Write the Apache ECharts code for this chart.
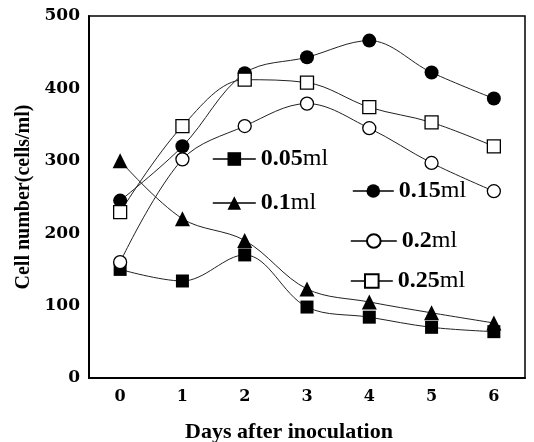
<!DOCTYPE html>
<html>
<head>
<meta charset="utf-8">
<script src="https://cdn.jsdelivr.net/npm/echarts@6/dist/echarts.min.js"></script>
<style>
  html, body { margin: 0; padding: 0; background: #fff; }
  #chart-container { width: 534px; height: 442px; }
</style>
</head>
<body>
<div id="chart-container"></div>
<script>
var dom = document.getElementById("chart-container");
var myChart = echarts.init(dom, null, { renderer: "canvas" });

const days = ["0", "1", "2", "3", "4", "5", "6"];
const yTicks = [0, 100, 200, 300, 400, 500];

const dose005 = [150, 134, 170, 98, 84, 70, 64];
const dose01 = [300, 220, 190, 123, 105, 90, 76];
const dose015 = [245, 320, 421, 443, 466, 422, 386];
const dose02 = [160, 302, 348, 379, 345, 297, 258];
const dose025 = [229, 348, 412, 408, 374, 353, 320];

const serif = "Liberation Serif";
const wideSerif = "DejaVu Serif";

function makeSeries(name, data, symbol, filled, size) {
  return {
    name: name,
    type: "line",
    data: data,
    smooth: 0.35,
    symbol: symbol,
    symbolSize: size,
    showAllSymbol: true,
    lineStyle: { color: "#222", width: 1 },
    itemStyle: {
      color: filled ? "#000" : "#fff",
      borderColor: "#000",
      borderWidth: filled ? 0 : 1.3,
    },
    emphasis: { disabled: true },
  };
}

function makeLegend(name, left, top, width) {
  return {
    data: [name],
    left: left,
    top: top,
    itemWidth: width,
    itemHeight: 17,
    itemGap: 0,
    padding: 0,
    selectedMode: false,
    lineStyle: { width: 1.6, color: "#000" },
    formatter: function (n) {
      return "{n|" + n.replace("ml", "") + "}{u|ml}";
    },
    textStyle: {
      rich: {
        n: { fontFamily: serif, fontWeight: "bold", fontSize: 24, color: "#000" },
        u: { fontFamily: serif, fontSize: 24, color: "#000" },
      },
    },
  };
}

var option = {
  backgroundColor: "#fff",
  animation: false,
  grid: {
    left: 89,
    right: 9,
    top: 16,
    bottom: 64,
    outerBoundsMode: "none",
    containLabel: false,
    show: true,
    borderColor: "#000",
    borderWidth: 1.5,
  },
  legend: [
    makeLegend("0.05ml", 212, 147, 43),
    makeLegend("0.1ml", 212, 191, 43),
    makeLegend("0.15ml", 352, 179, 41),
    makeLegend("0.2ml", 350, 229, 46),
    makeLegend("0.25ml", 350, 269, 42),
  ],
  xAxis: {
    type: "category",
    data: days,
    boundaryGap: true,
    name: "Days after inoculation",
    nameLocation: "middle",
    nameGap: 43,
    nameTextStyle: {
      fontFamily: serif,
      fontWeight: "bold",
      fontSize: 22,
      color: "#000",
      padding: [0, 36, 0, 0],
    },
    axisLine: { lineStyle: { color: "#000", width: 2 } },
    axisTick: { show: false },
    axisLabel: { fontFamily: wideSerif, fontWeight: "bold", fontSize: 16, color: "#000", margin: 11 },
  },
  yAxis: {
    type: "value",
    min: yTicks[0],
    max: yTicks[yTicks.length - 1],
    interval: 100,
    name: "Cell number(cells/ml)",
    nameLocation: "middle",
    nameGap: 54,
    nameTextStyle: { fontFamily: serif, fontWeight: "bold", fontSize: 20, color: "#000" },
    axisLine: { show: true, lineStyle: { color: "#000", width: 2 } },
    axisTick: { show: false },
    splitLine: { show: false },
    axisLabel: { fontFamily: wideSerif, fontWeight: "bold", fontSize: 17, color: "#000", margin: 9 },
  },
  series: [
    makeSeries("0.05ml", dose005, "rect", true, 13),
    makeSeries("0.1ml", dose01, "triangle", true, 15),
    makeSeries("0.15ml", dose015, "circle", true, 14),
    makeSeries("0.2ml", dose02, "circle", false, 13),
    makeSeries("0.25ml", dose025, "rect", false, 13),
  ],
};

myChart.setOption(option);
window.addEventListener("resize", myChart.resize);
</script>
</body>
</html>
